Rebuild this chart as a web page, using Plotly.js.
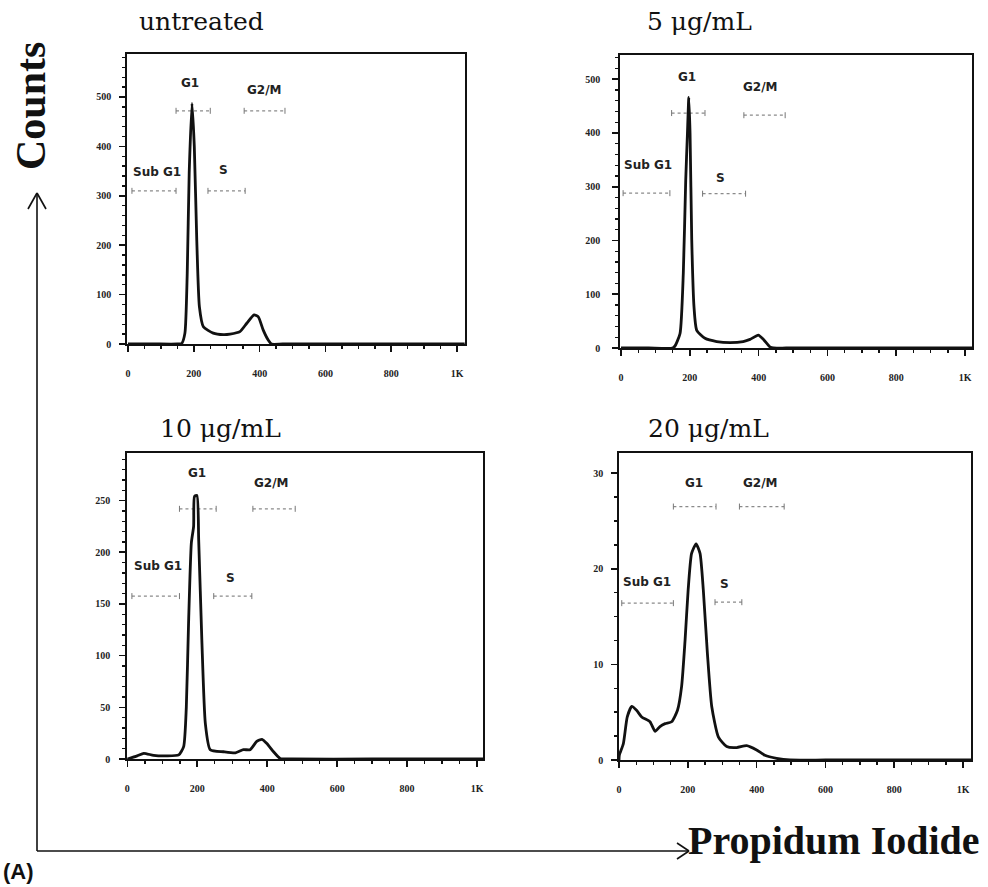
<!DOCTYPE html>
<html>
<head>
<meta charset="utf-8">
<script src="https://cdn.plot.ly/plotly-3.0.1.min.js"></script>
<style>
html,body{margin:0;padding:0;background:#fff;}
#chart{width:988px;height:887px;}
</style>
</head>
<body>
<div id="chart"></div>
<script>
// ---------------- DATA ----------------
const panelTitles = ['untreated', '5 μg/mL', '10 μg/mL', '20 μg/mL'];
const xTickValues = [0, 200, 400, 600, 800, 1000];
const xTickLabels = ['0', '200', '400', '600', '800', '1K'];
const phaseNames = ['Sub G1', 'G1', 'S', 'G2/M'];

// untreated
const untreatedChannel = [0, 80, 150, 163, 173, 180, 186, 194.5, 201.5, 209, 217, 229, 259, 290, 310, 340, 361, 383, 396, 411, 426, 436, 470, 700, 1023];
const untreatedCounts  = [0, 0, 0, 1, 22, 143, 346, 487, 400, 210, 75, 35, 22, 19, 20, 25, 42, 59, 55, 28, 8, 0, 0, 0, 0];
const untreatedGates   = [[12, 146], [146, 250], [243, 356], [353, 477]];

// 5 ug/mL
const dose5Channel = [0, 80, 150, 157, 171.5, 181, 188, 193, 197, 200.6, 205.5, 212, 220, 244, 278, 317, 355, 375, 399, 414, 433, 443, 480, 700, 1023];
const dose5Counts  = [0, 0, 0, 4, 27, 139, 312, 399, 466, 399, 201, 77, 33, 18, 12, 10, 12, 16, 24, 16, 2, 0, 0, 0, 0];
const dose5Gates   = [[6, 142], [147, 244], [237, 362], [357, 477]];

// 10 ug/mL
const dose10Channel = [0, 28, 47, 75, 113, 147, 161, 168.6, 175, 183, 189.5, 192, 199, 204, 213, 223, 237, 275, 309, 332, 351, 370, 385, 399, 418, 437, 470, 700, 1023];
const dose10Counts  = [0, 3, 5.5, 3.5, 3, 4, 12, 50, 131, 209, 225, 254, 255, 212, 115, 34.5, 9, 7, 6, 9, 9, 17, 19, 15, 7, 0.5, 0, 0, 0];
const dose10Gates   = [[13, 149], [149, 254], [247, 356], [359, 480]];

// 20 ug/mL
const dose20Channel = [0, 1, 12.6, 24, 37, 51, 66, 90, 105, 119, 134, 153, 170, 182, 192, 201, 211, 224, 235.5, 245, 257, 269.5, 289, 313, 342, 371, 400, 424, 458, 497, 600, 800, 1023];
const dose20Counts  = [0, 0.5, 1.7, 4.5, 5.6, 5.2, 4.5, 4.0, 3.0, 3.5, 3.8, 4.0, 5.2, 7.7, 12.5, 17.8, 21.6, 22.6, 21.6, 17.8, 11.1, 5.6, 2.4, 1.4, 1.3, 1.5, 1.05, 0.5, 0.18, 0, 0, 0, 0];
const dose20Gates   = [[8, 158], [158, 282], [279, 357], [350, 480]];

// ---------------- LAYOUT CONFIG ----------------
const W = 988, H = 887;
const px = v => v / W;
const py = v => 1 - v / H;

const panels = [
  {ch: untreatedChannel, ct: untreatedCounts, gates: untreatedGates,
   xd: [127, 465], yd: [344, 54], xr: [-3, 1024], yr: [0, 587], ydt: 100, ymin: 20,
   gateY: [310, 472, 310, 472], labX: [88, 188, 289, 416], labShift: [19, 28, 21, 21],
   title: [201, 22], ystand: 6},
  {ch: dose5Channel, ct: dose5Counts, gates: dose5Gates,
   xd: [620, 972], yd: [348, 55], xr: [-3, 1020], yr: [0, 545], ydt: 100, ymin: 20,
   gateY: [288, 437, 287, 433], labX: [78, 192, 288, 404], labShift: [28, 36, 16, 28],
   title: [699, 22], ystand: 10},
  {ch: dose10Channel, ct: dose10Counts, gates: dose10Gates,
   xd: [127, 483], yd: [759, 453], xr: [-1, 1017], yr: [0, 296], ydt: 50, ymin: 10,
   gateY: [157.6, 242, 157.6, 242], labX: [89, 199, 296, 413], labShift: [30, 36, 18, 26],
   title: [220, 428], ystand: 7},
  {ch: dose20Channel, ct: dose20Counts, gates: dose20Gates,
   xd: [619, 971], yd: [760, 453], xr: [0, 1023], yr: [0, 32.1], ydt: 10, ymin: 2.5,
   gateY: [16.4, 26.5, 16.5, 26.5], labX: [80, 219, 308, 410], labShift: [21, 24, 18, 24],
   title: [708, 428], ystand: 6}
];

const tickFont = {family: 'Liberation Serif', size: 10, color: '#222', weight: 'bold'};
const traces = [];
const layout = {
  width: W, height: H, autosize: false,
  margin: {l: 0, r: 0, t: 0, b: 0, pad: 0},
  paper_bgcolor: '#fff', plot_bgcolor: '#fff',
  showlegend: false,
  shapes: [], annotations: []
};

panels.forEach((p, i) => {
  const n = i === 0 ? '' : String(i + 1);
  const xa = 'x' + n, ya = 'y' + n;
  traces.push({
    x: p.ch, y: p.ct, xaxis: xa, yaxis: ya, type: 'scatter', mode: 'lines',
    line: {color: '#111', width: 2.8, shape: 'spline', smoothing: 0.55},
    hoverinfo: 'skip', cliponaxis: true
  });
  layout['xaxis' + n] = {
    domain: [px(p.xd[0]), px(p.xd[1])], range: p.xr, anchor: ya,
    showgrid: false, zeroline: false, showline: true, mirror: true,
    linecolor: '#111', linewidth: 1.8,
    ticks: 'outside', ticklen: 6, tickwidth: 1.6, tickcolor: '#111',
    tickmode: 'array', tickvals: xTickValues, ticktext: xTickLabels,
    minor: {tickmode: 'linear', tick0: 0, dtick: 50, ticks: 'outside', ticklen: 3, tickwidth: 1.4, tickcolor: '#111', showgrid: false},
    tickfont: tickFont, ticklabelstandoff: 13, fixedrange: true
  };
  layout['yaxis' + n] = {
    domain: [py(p.yd[0]), py(p.yd[1])], range: p.yr, anchor: xa,
    showgrid: false, zeroline: false, showline: true, mirror: true,
    linecolor: '#111', linewidth: 1.8,
    ticks: 'outside', ticklen: 6, tickwidth: 1.6, tickcolor: '#111',
    tickmode: 'linear', tick0: 0, dtick: p.ydt,
    minor: {tickmode: 'linear', tick0: 0, dtick: p.ymin, ticks: 'outside', ticklen: 3, tickwidth: 1.4, tickcolor: '#111', showgrid: false},
    tickfont: tickFont, ticklabelstandoff: p.ystand, fixedrange: true
  };
  // gates
  p.gates.forEach((g, k) => {
    const gy = p.gateY[k];
    layout.shapes.push({type: 'line', xref: xa, yref: ya, x0: g[0], x1: g[1], y0: gy, y1: gy,
      line: {color: '#8a8a8a', width: 1.2, dash: 'dot'}, layer: 'below'});
    [g[0], g[1]].forEach(gx => {
      layout.shapes.push({type: 'line', xref: xa, yref: ya, ysizemode: 'pixel', yanchor: gy,
        x0: gx, x1: gx, y0: -3, y1: 3, line: {color: '#777', width: 1}, layer: 'below'});
    });
    layout.annotations.push({xref: xa, yref: ya, x: p.labX[k], y: gy, yshift: p.labShift[k],
      text: phaseNames[k], showarrow: false, xanchor: 'center', yanchor: 'middle',
      font: {family: 'DejaVu Sans', size: 12, color: '#222', weight: 'bold'}});
  });
  // panel title
  layout.annotations.push({xref: 'paper', yref: 'paper', x: px(p.title[0]), y: py(p.title[1]),
    text: panelTitles[i], showarrow: false, xanchor: 'center', yanchor: 'middle',
    font: {family: 'DejaVu Serif', size: 25, color: '#111'}});
});

// Big axis arrows
const arrowLine = {color: '#111', width: 1.6};
layout.shapes.push(
  {type: 'line', xref: 'paper', yref: 'paper', x0: px(37), x1: px(37), y0: py(851), y1: py(193), line: arrowLine},
  {type: 'line', xref: 'paper', yref: 'paper', x0: px(37), x1: px(28), y0: py(193), y1: py(209), line: arrowLine},
  {type: 'line', xref: 'paper', yref: 'paper', x0: px(37), x1: px(46), y0: py(193), y1: py(209), line: arrowLine},
  {type: 'line', xref: 'paper', yref: 'paper', x0: px(37), x1: px(689), y0: py(851), y1: py(851), line: arrowLine},
  {type: 'line', xref: 'paper', yref: 'paper', x0: px(689), x1: px(677), y0: py(851), y1: py(843), line: arrowLine},
  {type: 'line', xref: 'paper', yref: 'paper', x0: px(689), x1: px(677), y0: py(851), y1: py(859), line: arrowLine}
);
layout.annotations.push(
  {xref: 'paper', yref: 'paper', x: px(31), y: py(106), text: 'Counts', textangle: -90, showarrow: false,
   xanchor: 'center', yanchor: 'middle', font: {family: 'Liberation Serif', size: 42, color: '#111', weight: 'bold'}},
  {xref: 'paper', yref: 'paper', x: px(834), y: py(840), text: 'Propidum Iodide', showarrow: false,
   xanchor: 'center', yanchor: 'middle', font: {family: 'Liberation Serif', size: 40, color: '#111', weight: 'bold'}},
  {xref: 'paper', yref: 'paper', x: px(18), y: py(871), text: '(A)', showarrow: false,
   xanchor: 'center', yanchor: 'middle', font: {family: 'Liberation Sans', size: 22, color: '#111', weight: 'bold'}}
);

Plotly.newPlot('chart', traces, layout, {staticPlot: true, displayModeBar: false});
</script>
</body>
</html>
